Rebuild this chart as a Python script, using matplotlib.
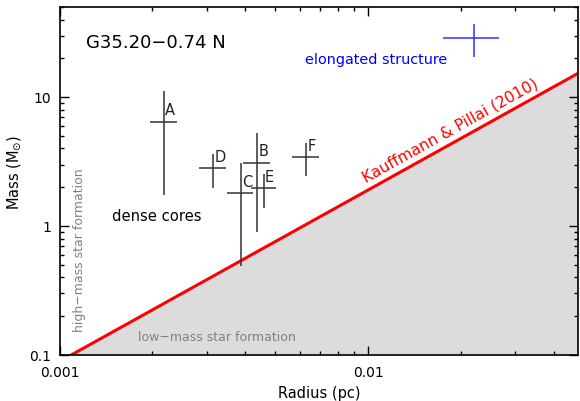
import numpy as np
import matplotlib
matplotlib.use('Agg')
import matplotlib.pyplot as plt
from matplotlib.ticker import FixedLocator, FixedFormatter, LogLocator, NullFormatter

# dense cores
cores = ['A', 'B', 'C', 'D', 'E', 'F']
radius = [0.00218, 0.00437, 0.00387, 0.00315, 0.00460, 0.00630]
radius_err = [0.00022, 0.00044, 0.00038, 0.00032, 0.00043, 0.00063]
mass = [6.44, 3.10, 1.79, 2.82, 1.97, 3.43]
mass_err = [4.7, 2.2, 1.3, 0.83, 0.58, 1.0]

# elongated structure
elong_radius = [0.0220]
elong_radius_err = [0.0045]
elong_mass = [28.6]
elong_mass_err = [8.2]

# Kauffmann & Pillai (2010) threshold M = 870 Msun (r/pc)^1.33
kp_coef = 870.0
kp_exp = 1.33

x_ticks = [0.001, 0.01]
x_labels = ['0.001', '0.01']
y_ticks = [0.1, 1, 10]
y_labels = ['0.1', '1', '10']

xmin, xmax = 0.001, 0.0481
ymin, ymax = 0.1, 50

fig = plt.figure(figsize=(5.8, 4.01), dpi=100)
ax = fig.add_axes([0.1026, 0.1147, 0.8948, 0.8678])
ax.set_xscale('log')
ax.set_yscale('log')
ax.set_xlim(xmin, xmax)
ax.set_ylim(ymin, ymax)

# threshold line and the shaded low-mass region under it
r_line = np.geomspace(xmin, xmax * 1.1, 100)
m_line = kp_coef * r_line ** kp_exp
ax.fill_between(r_line, 0.01, m_line, color='#dcdcdc', lw=0, zorder=1)
ax.plot(r_line, m_line, color='#ff0000', lw=2.2, zorder=3)

# cores
ax.errorbar(radius, mass, xerr=radius_err, yerr=mass_err, fmt='none',
            ecolor='#333333', elinewidth=1.1, capsize=0, zorder=4)
for name, r, m in zip(cores, radius, mass):
    ax.annotate(name, (r, m), xytext=(0.8, 2.5), textcoords='offset points',
                ha='left', va='bottom', fontsize=10.5, color='#222222', zorder=5)

ax.errorbar(elong_radius, elong_mass, xerr=elong_radius_err, yerr=elong_mass_err,
            fmt='none', ecolor='#3030ff', elinewidth=1.1, capsize=0, zorder=4)

# texts
ax.text(0.051, 0.897, 'G35.20\u22120.74 N', transform=ax.transAxes,
        fontsize=13, ha='left', va='center')
ax.text(0.473, 0.848, 'elongated structure', transform=ax.transAxes,
        fontsize=10.4, color='#0000ff', ha='left', va='center')
ax.text(0.101, 0.399, 'dense cores', transform=ax.transAxes,
        fontsize=10.6, ha='left', va='center')
ax.text(0.038, 0.30, 'high\u2212mass star formation', transform=ax.transAxes,
        fontsize=9, color='#808080', rotation=90, ha='center', va='center')
ax.text(0.151, 0.049, 'low\u2212mass star formation', transform=ax.transAxes,
        fontsize=9, color='#808080', ha='left', va='center')

# label along the threshold line
r_lab = 0.0193
m_lab = kp_coef * r_lab ** kp_exp
p1 = ax.transData.transform((r_lab, m_lab))
p2 = ax.transData.transform((r_lab * 1.5, kp_coef * (r_lab * 1.5) ** kp_exp))
ang = np.degrees(np.arctan2(p2[1] - p1[1], p2[0] - p1[0]))
ax.annotate('Kauffmann & Pillai (2010)', (r_lab, m_lab), xytext=(-1.5, 2.5),
            textcoords='offset points', rotation=ang, rotation_mode='anchor',
            ha='center', va='bottom', fontsize=11.2, color='#ff0000', zorder=5)

# axes styling
ax.xaxis.set_major_locator(FixedLocator(x_ticks))
ax.xaxis.set_major_formatter(FixedFormatter(x_labels))
ax.yaxis.set_major_locator(FixedLocator(y_ticks))
ax.yaxis.set_major_formatter(FixedFormatter(y_labels))
ax.xaxis.set_minor_locator(LogLocator(base=10, subs=np.arange(2, 10)))
ax.yaxis.set_minor_locator(LogLocator(base=10, subs=np.arange(2, 10)))
ax.xaxis.set_minor_formatter(NullFormatter())
ax.yaxis.set_minor_formatter(NullFormatter())
ax.tick_params(which='both', direction='in', top=True, right=True, width=1, color='black')
ax.tick_params(which='major', length=6.5, labelsize=10)
ax.tick_params(which='minor', length=3)
ax.tick_params(axis='x', which='major', pad=8)
ax.tick_params(axis='y', which='major', pad=6)
for s in ax.spines.values():
    s.set_linewidth(1.2)
    s.set_zorder(6)

ax.set_xlabel('Radius (pc)', fontsize=10.5, labelpad=4)
ax.set_ylabel(r'Mass (M$_{\odot}$)', fontsize=10.5)
ax.yaxis.set_label_coords(-0.071, 0.526)

fig.savefig('out.png', dpi=100)
